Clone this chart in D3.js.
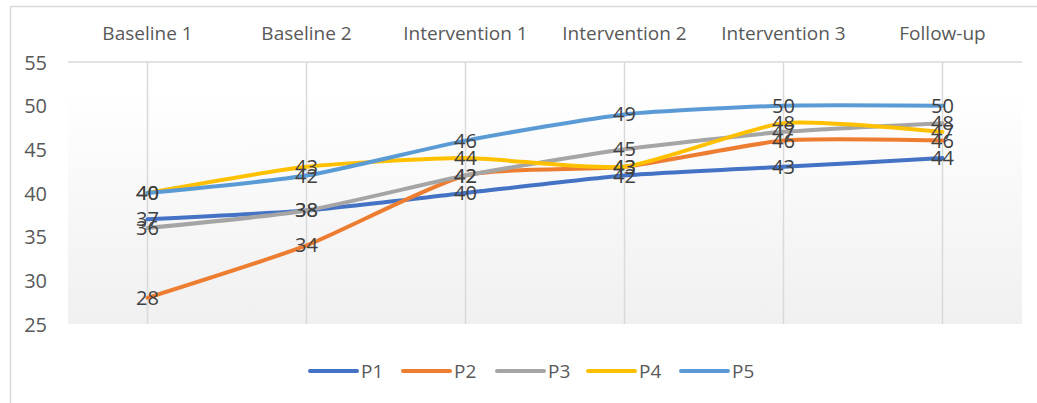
<!DOCTYPE html>
<html>
<head>
<meta charset="utf-8">
<script src="https://cdn.jsdelivr.net/npm/d3@7"></script>
<style>
  html, body { margin: 0; padding: 0; background: #fff; }
  svg { display: block; }
  text { font-family: "Open Sans", "Noto Sans", sans-serif; }
</style>
</head>
<body>
<svg id="chart" width="1037" height="403"></svg>
<script>
// Phases along the top axis
const phases = ["Baseline 1", "Baseline 2", "Intervention 1", "Intervention 2", "Intervention 3", "Follow-up"];

// Scores per participant
const p1 = [37, 38, 40, 42, 43, 44];
const p2 = [28, 34, 42, 43, 46, 46];
const p3 = [36, 38, 42, 45, 47, 48];
const p4 = [40, 43, 44, 43, 48, 47];
const p5 = [40, 42, 46, 49, 50, 50];

const seriesNames = ["P1", "P2", "P3", "P4", "P5"];
const seriesColors = ["#4472C4", "#ED7D31", "#A5A5A5", "#FFC000", "#5B9BD5"];
const yTicks = [25, 30, 35, 40, 45, 50, 55];

const series = [p1, p2, p3, p4, p5].map((vals, i) => ({
  name: seriesNames[i],
  color: seriesColors[i],
  values: vals.map((v, j) => ({ phase: phases[j], value: v }))
}));

const svg = d3.select("#chart");
const plotLeft = 68, plotRight = 1022, plotTop = 62, plotBottom = 324;

// Outer chart frame
svg.append("rect")
  .attr("x", 10.5).attr("y", 6.5)
  .attr("width", 1040).attr("height", 420)
  .attr("fill", "#fff").attr("stroke", "#d9d9d9").attr("stroke-width", 1.5);

const x = d3.scaleBand().domain(phases).range([plotLeft, plotRight]);
const y = d3.scaleLinear().domain([25, 55]).range([plotBottom, plotTop]);
const cx = d => x(d) + x.bandwidth() / 2;

// Plot-area fill: white fading to light grey
const defs = svg.append("defs");
const grad = defs.append("linearGradient").attr("id", "plotFill")
  .attr("x1", 0).attr("y1", 0).attr("x2", 0).attr("y2", 1);
grad.append("stop").attr("offset", "0").attr("stop-color", "#ffffff");
grad.append("stop").attr("offset", "0.1").attr("stop-color", "#ffffff");
grad.append("stop").attr("offset", "1").attr("stop-color", "#f0f0f0");

svg.append("rect")
  .attr("x", plotLeft).attr("y", plotTop)
  .attr("width", plotRight - plotLeft).attr("height", plotBottom - plotTop)
  .attr("fill", "url(#plotFill)");

// Vertical gridlines at each phase
svg.append("g").selectAll("line").data(phases).join("line")
  .attr("x1", cx).attr("x2", cx)
  .attr("y1", plotTop).attr("y2", plotBottom)
  .attr("stroke", "#d9d9d9").attr("stroke-width", 1.5);

// Top gridline at the maximum
svg.append("line")
  .attr("x1", plotLeft).attr("x2", plotRight)
  .attr("y1", y(55)).attr("y2", y(55))
  .attr("stroke", "#d9d9d9").attr("stroke-width", 1.5);

// Category axis along the top
const xAxis = svg.append("g")
  .attr("transform", `translate(0, ${plotTop - 29})`)
  .call(d3.axisTop(x).tickSize(0).tickPadding(0));
xAxis.select(".domain").remove();
xAxis.selectAll("text")
  .attr("fill", "#595959").attr("font-size", 19)
  .attr("dy", "0.35em");

// Value axis on the left
const yAxis = svg.append("g")
  .attr("transform", `translate(${plotLeft - 21}, 0)`)
  .call(d3.axisLeft(y).tickValues(yTicks).tickSize(0).tickPadding(0));
yAxis.select(".domain").remove();
yAxis.selectAll("text")
  .attr("fill", "#595959").attr("font-size", 20)
  .attr("dy", "0.35em");

// Smoothed series lines
const line = d3.line()
  .x(d => cx(d.phase))
  .y(d => y(d.value))
  .curve(d3.curveCardinal.tension(0.4));

svg.append("g").selectAll("path").data(series).join("path")
  .attr("d", d => line(d.values))
  .attr("fill", "none")
  .attr("stroke", d => d.color)
  .attr("stroke-width", 4)
  .attr("stroke-linecap", "round")
  .attr("stroke-linejoin", "round");

// Value labels centred on each point
svg.append("g").selectAll("g").data(series).join("g")
  .selectAll("text").data(d => d.values).join("text")
  .attr("x", d => cx(d.phase))
  .attr("y", d => y(d.value))
  .attr("dy", "0.35em")
  .attr("text-anchor", "middle")
  .attr("fill", "#404040")
  .attr("font-size", 20)
  .text(d => d.value);

// Legend
const legendX = [310, 403, 497, 588, 681];
const legend = svg.append("g").selectAll("g").data(series).join("g")
  .attr("transform", (d, i) => `translate(${legendX[i]}, 371)`);
legend.append("line")
  .attr("x1", 0).attr("x2", 47).attr("y1", 0).attr("y2", 0)
  .attr("stroke", d => d.color).attr("stroke-width", 4)
  .attr("stroke-linecap", "round");
legend.append("text")
  .attr("x", 51).attr("y", 0).attr("dy", "0.35em")
  .attr("fill", "#595959").attr("font-size", 19)
  .text(d => d.name);
</script>
</body>
</html>
